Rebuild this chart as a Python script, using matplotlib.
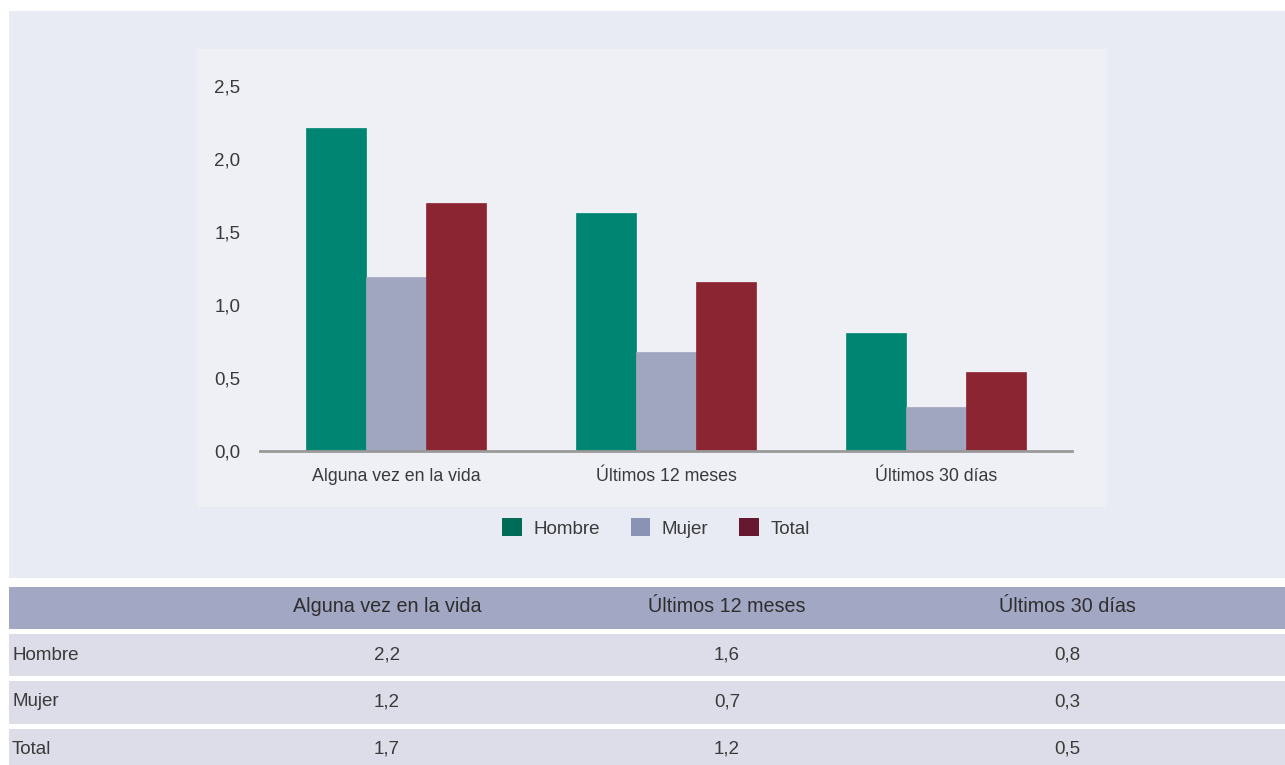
import matplotlib
matplotlib.use("Agg")
import matplotlib.pyplot as plt
from matplotlib.patches import Rectangle, Patch
import numpy as np

plt.rcParams['font.family'] = ['Liberation Sans', 'DejaVu Sans']

categories = ["Alguna vez en la vida", "Últimos 12 meses", "Últimos 30 días"]
series_names = ["Hombre", "Mujer", "Total"]
hombre = [2.21, 1.63, 0.81]
mujer = [1.19, 0.68, 0.30]
total = [1.70, 1.16, 0.54]
table_hombre = ["2,2", "1,6", "0,8"]
table_mujer = ["1,2", "0,7", "0,3"]
table_total = ["1,7", "1,2", "0,5"]
yticks = [0.0, 0.5, 1.0, 1.5, 2.0, 2.5]
ytick_labels = ["0,0", "0,5", "1,0", "1,5", "2,0", "2,5"]

bar_colors = ["#008572", "#a1a6c0", "#8c2532"]
legend_colors = ["#006b56", "#8a93b5", "#661830"]
text_color = "#3a3a3a"

W, H = 1285, 765
fig = plt.figure(figsize=(W / 100, H / 100), dpi=100)
fig.patch.set_facecolor("white")

def px_rect(x0, y0, x1, y1, color, z=0):
    fig.patches.append(Rectangle((x0 / W, 1 - y1 / H), (x1 - x0) / W, (y1 - y0) / H,
                                 transform=fig.transFigure, facecolor=color,
                                 edgecolor="none", zorder=z))

# background panels
px_rect(9, 11, 1285, 578, "#e8ebf3", 0)
px_rect(197, 49, 1107, 507, "#eff0f5", 1)

# axes
ax_l, ax_r, ax_top, ax_bot = 260, 1072, 86, 451
ax = fig.add_axes([ax_l / W, 1 - ax_bot / H, (ax_r - ax_l) / W, (ax_bot - ax_top) / H])
ax.set_facecolor("none")
ax.set_zorder(2)

x = np.arange(len(categories))
bw = 0.222
for i, (vals, c) in enumerate(zip([hombre, mujer, total], bar_colors)):
    ax.bar(x + (i - 1) * bw, vals, width=bw, color=c, edgecolor=c, linewidth=0.5, zorder=3)

ax.set_xlim(-0.504, 2.504)
ax.set_ylim(0, 2.5)
ax.set_yticks(yticks)
ax.set_yticklabels(ytick_labels)
ax.set_xticks(x)
ax.set_xticklabels(categories)
for s in ["top", "right", "left"]:
    ax.spines[s].set_visible(False)
ax.spines["bottom"].set_color("#999999")
ax.spines["bottom"].set_linewidth(2)
ax.spines["bottom"].set_zorder(4)
ax.tick_params(axis="both", length=0, colors=text_color)
ax.tick_params(axis="y", pad=14, labelsize=13.5)
ax.tick_params(axis="x", pad=12, labelsize=12.8)

handles = [Patch(facecolor=c, edgecolor="none") for c in legend_colors]
fig.legend(handles, series_names, loc="center", bbox_to_anchor=(656 / W, 1 - 528 / H),
           ncol=3, frameon=False, fontsize=13.5, handlelength=1.05, handleheight=1.05,
           handletextpad=0.6, columnspacing=1.65, labelcolor=text_color)

# table
rows = [(587, 629, "#a2a8c4"), (634, 676, "#dcdde9"), (681, 724, "#dcdde9"), (729, 770, "#dcdde9")]
for y0, y1, col in rows:
    px_rect(9, y0, 1285, y1, col, 1)

col_centers = [387, 727, 1067]
def ty(y):
    return 1 - y / H

for cx, cat in zip(col_centers, categories):
    fig.text(cx / W, ty(606), cat, ha="center", va="center", fontsize=14.2, color="#2e2e2e")

table_rows = [("Hombre", table_hombre), ("Mujer", table_mujer), ("Total", table_total)]
row_mids = [655, 702, 749]
for (name, vals), ym in zip(table_rows, row_mids):
    fig.text(12 / W, ty(ym), name, ha="left", va="center", fontsize=13.5, color=text_color)
    for cx, v in zip(col_centers, vals):
        fig.text(cx / W, ty(ym), v, ha="center", va="center", fontsize=13.5, color=text_color)

fig.savefig("out.png", dpi=100, facecolor="white")
